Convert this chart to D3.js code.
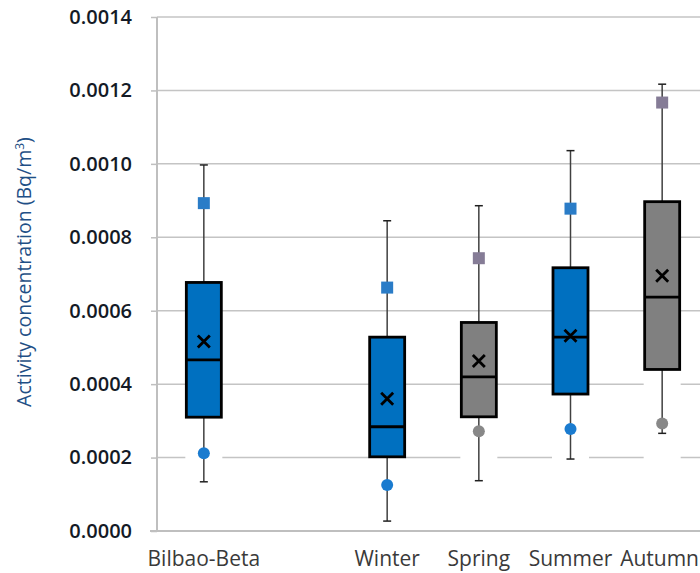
<!DOCTYPE html>
<html><head><meta charset="utf-8">
<script src="https://cdn.jsdelivr.net/npm/d3@7"></script>
<style>body{margin:0;background:#fff}svg{display:block}</style>
</head><body>
<script>
const categories = ["Bilbao-Beta", "", "Winter", "Spring", "Summer", "Autumn"];
const seriesColor = ["blue", null, "blue", "gray", "blue", "gray"];
const whiskerMin = [0.000134, null, 0.000027, 0.000137, 0.000196, 0.000266];
const q1 =        [0.000310, null, 0.000202, 0.000311, 0.000373, 0.000440];
const median =    [0.000466, null, 0.000284, 0.000420, 0.000528, 0.000637];
const q3 =        [0.000677, null, 0.000528, 0.000568, 0.000717, 0.000897];
const whiskerMax =[0.000997, null, 0.000845, 0.000886, 0.001036, 0.001217];
const mean =      [0.000516, null, 0.000360, 0.000463, 0.000532, 0.000695];
const p95 =       [0.000893, null, 0.000663, 0.000743, 0.000878, 0.001167];
const p5 =        [0.000212, null, 0.000125, 0.000272, 0.000278, 0.000293];
const yTicks = [0, 0.0002, 0.0004, 0.0006, 0.0008, 0.0010, 0.0012, 0.0014];

const W = 700, H = 573;
const svg = d3.select("body").append("svg").attr("width", W).attr("height", H);
const x = d3.scaleBand().domain(categories).range([158, 708]);
const y = d3.scaleLinear().domain([0, 0.0014]).range([531, 17]);
const bw = 35;
const fill = {blue: "#0070C0", gray: "#808080"};
const sqColor = {blue: "#2a7cc7", gray: "#857c96"};
const dotColor = {blue: "#1a7bcf", gray: "#888888"};

// gridlines
svg.append("g").selectAll("line").data(yTicks.slice(1)).join("line")
  .attr("x1", 157).attr("x2", W).attr("y1", d => y(d)).attr("y2", d => y(d))
  .attr("stroke", "#c4c4c4").attr("stroke-width", 1.5);

const data = categories.map((c, i) => ({c, i})).filter(d => q1[d.i] !== null);
const g = svg.append("g");
data.forEach(({c, i}) => {
  const cx = x(c) + x.bandwidth() / 2;
  const col = seriesColor[i];
  // invisible base segment (white) hides gridlines
  g.append("rect").attr("x", cx - bw/2 - 1).attr("width", bw + 2)
    .attr("y", y(q1[i])).attr("height", y(0) - y(q1[i]) - 1).attr("fill", "#fff");
  // whiskers
  g.append("line").attr("x1", cx).attr("x2", cx).attr("y1", y(whiskerMax[i])).attr("y2", y(q3[i]))
    .attr("stroke", "#404040").attr("stroke-width", 1.5);
  g.append("line").attr("x1", cx).attr("x2", cx).attr("y1", y(q1[i])).attr("y2", y(whiskerMin[i]))
    .attr("stroke", "#404040").attr("stroke-width", 1.5);
  [whiskerMax[i], whiskerMin[i]].forEach(v => {
    g.append("line").attr("x1", cx - 4).attr("x2", cx + 4).attr("y1", y(v)).attr("y2", y(v))
      .attr("stroke", "#202020").attr("stroke-width", 1.5);
  });
  // box
  g.append("rect").attr("x", cx - bw/2).attr("width", bw)
    .attr("y", y(q3[i])).attr("height", y(q1[i]) - y(q3[i]))
    .attr("fill", fill[col]).attr("stroke", "#000").attr("stroke-width", 2.8);
  g.append("line").attr("x1", cx - bw/2).attr("x2", cx + bw/2).attr("y1", y(median[i])).attr("y2", y(median[i]))
    .attr("stroke", "#000").attr("stroke-width", 2.8);
  // mean X
  const my = y(mean[i]), s = 6;
  g.append("path").attr("d", `M${cx-s},${my-s}L${cx+s},${my+s}M${cx-s},${my+s}L${cx+s},${my-s}`)
    .attr("stroke", "#000").attr("stroke-width", 2.8);
  // 95th square
  g.append("rect").attr("x", cx - 6).attr("y", y(p95[i]) - 6).attr("width", 12).attr("height", 12)
    .attr("fill", sqColor[col]);
  // 5th circle
  g.append("circle").attr("cx", cx).attr("cy", y(p5[i])).attr("r", 6).attr("fill", dotColor[col]);
});

// y axis
const yAxis = d3.axisLeft(y).tickValues(yTicks).tickFormat(d3.format(".4f")).tickSize(6).tickPadding(19);
const ya = svg.append("g").attr("transform", "translate(157,0)").call(yAxis);
ya.select(".domain").attr("stroke", "#bfbfbf").attr("stroke-width", 2).attr("d", "M0,17V531");
ya.selectAll(".tick line").attr("stroke", "#bfbfbf").attr("stroke-width", 1.5);
ya.selectAll(".tick text").attr("font-family", "Open Sans, sans-serif").attr("font-size", 20)
  .attr("font-weight", 600).attr("fill", "#141a26");

// x axis line
svg.append("line").attr("x1", 150).attr("x2", W).attr("y1", 531).attr("y2", 531)
  .attr("stroke", "#bfbfbf").attr("stroke-width", 2);

// x labels
const xl = svg.append("g").selectAll("text").data(categories.filter(c => c !== "")).join("text")
  .attr("x", d => x(d) + x.bandwidth()/2).attr("y", 566).attr("text-anchor", "middle")
  .attr("font-family", "Open Sans, sans-serif").attr("font-size", 21).attr("fill", "#3a3a3a")
  .text(d => d);
// keep labels inside the frame
xl.each(function() {
  const b = this.getBBox();
  if (b.x + b.width > W - 1) {
    d3.select(this).attr("x", +d3.select(this).attr("x") - (b.x + b.width - (W - 1)));
  }
});

// y title
const yt = svg.append("text").attr("transform", "translate(31,272) rotate(-90)")
  .attr("text-anchor", "middle").attr("font-family", "Open Sans, sans-serif")
  .attr("font-size", 19.5).attr("fill", "#1f4f86");
yt.append("tspan").text("Activity concentration (Bq/m");
yt.append("tspan").attr("dy", -7).attr("font-size", 12).text("3");
yt.append("tspan").attr("dy", 7).text(")");
</script>
</body></html>
